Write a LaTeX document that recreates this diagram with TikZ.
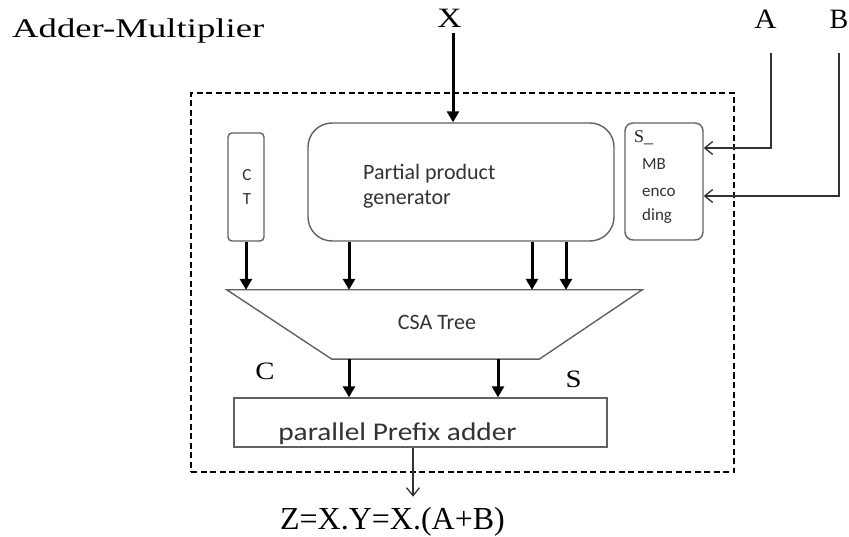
\documentclass[tikz,border=0pt]{standalone}
\usepackage{fontspec}
\usepackage{graphicx}
\setmainfont{Liberation Serif}
\newfontfamily\boxfont{Carlito}
\usetikzlibrary{arrows.meta}
\newcommand\wx[2]{\scalebox{#1}[1]{#2}}
\begin{document}
\begin{tikzpicture}[x=1pt,y=-1pt,
  blk/.style={draw=black!62, line width=1.4pt, fill=white},
  thk/.style={line width=3pt, -{Triangle[length=11pt,width=12pt]}},
  thn/.style={line width=1.3pt, draw=black!80, -{Straight Barb[length=8pt,width=13pt,line width=1.3pt]}},
  lbl/.style={inner sep=0pt, anchor=base, text=black},
  btxt/.style={inner sep=0pt, text=black!80, font=\boxfont},
  frame/.style={draw, line width=2.7pt, dash pattern=on 6pt off 3.5pt}]
\useasboundingbox (0,0) rectangle (849,537);

% outer dashed frame
\node[frame, minimum width=543pt, minimum height=379pt, inner sep=0pt] (fr) at (462.5,282.5) {};

% title and input labels
\node[lbl, anchor=base west] (title) at (12,38) {\fontsize{27}{30}\selectfont\wx{1.36}{Adder-Multiplier}};
\node[lbl] (X) at (449.5,28) {\fontsize{28}{30}\selectfont\wx{1.2}{X}};
\node[lbl] (A) at (765.5,29) {\fontsize{28}{30}\selectfont\wx{1.1}{A}};
\node[lbl] (B) at (839,29) {\fontsize{28}{30}\selectfont\wx{1.0}{B}};

% blocks
\node[blk, rounded corners=4pt, minimum width=36pt, minimum height=108pt, inner sep=0pt] (ct) at (246,187) {};
\node[btxt, font=\boxfont\fontsize{17}{18}\selectfont] (ctc) at (247,175) {C};
\node[btxt, font=\boxfont\fontsize{17}{18}\selectfont] (ctt) at (247,199) {T};

\node[blk, rounded corners=24pt, minimum width=306pt, minimum height=118pt, inner sep=0pt] (ppg) at (461,182) {};
\node[btxt, anchor=base west, font=\boxfont\fontsize{22}{24}\selectfont] (pp1) at (363,180) {Partial product};
\node[btxt, anchor=base west, font=\boxfont\fontsize{22}{24}\selectfont] (pp2) at (363,205) {generator};

\node[blk, rounded corners=8pt, minimum width=78pt, minimum height=117pt, inner sep=0pt] (mb) at (664,181.5) {};
\node[lbl, anchor=base west, text=black!85] (mbs) at (634,143) {\fontsize{18}{18}\selectfont S\_};
\node[btxt, anchor=base west, font=\boxfont\fontsize{17}{18}\selectfont] (mb1) at (642,170) {MB};
\node[btxt, anchor=base west, font=\boxfont\fontsize{17}{18}\selectfont] (mb2) at (642,197) {enco};
\node[btxt, anchor=base west, font=\boxfont\fontsize{17}{18}\selectfont] (mb3) at (642,221) {ding};

% CSA tree (trapezoid)
\node[minimum width=415pt, minimum height=69pt, inner sep=0pt] (csa) at (434.5,324.5) {};
\draw[blk] (csa.north west) -- (csa.north east) -- ([xshift=-103pt]csa.south east) -- ([xshift=105pt]csa.south west) -- cycle;
\node[btxt, font=\boxfont\fontsize{22}{24}\selectfont] (csat) at (437,322) {CSA Tree};

% adder
\node[blk, minimum width=373pt, minimum height=49pt, inner sep=0pt] (adder) at (420.5,422.5) {};
\node[btxt, anchor=base, font=\boxfont\fontsize{25.5}{28}\selectfont] (addt) at (397.5,440) {\wx{1.15}{parallel Prefix adder}};

% C and S labels
\node[lbl] (Cl) at (265,379) {\fontsize{25}{30}\selectfont\wx{1.15}{C}};
\node[lbl] (Sl) at (573.5,388) {\fontsize{25}{30}\selectfont\wx{1.15}{S}};

% output
\node[lbl] (Z) at (392.5,529.5) {\fontsize{32}{36}\selectfont Z=X.Y=X.(A+B)};

% connectors
\coordinate (x0) at (453,33);
\draw[thk] (x0) -- (x0 |- ppg.north);

\coordinate (a0) at (771,53);
\coordinate (b0) at (839,53);
\draw[thn] (a0) |- ([yshift=33.5pt]mb.east);
\draw[thn] (b0) |- ([yshift=-14.5pt]mb.east);

\draw[thk] (ct.south) -- (ct.south |- csa.north);
\coordinate (p1) at ([xshift=-112pt]ppg.south);
\coordinate (p2) at ([xshift=71pt]ppg.south);
\coordinate (p3) at ([xshift=105pt]ppg.south);
\draw[thk] (p1) -- (p1 |- csa.north);
\draw[thk] (p2) -- (p2 |- csa.north);
\draw[thk] (p3) -- (p3 |- csa.north);

\coordinate (q1) at ([xshift=-85.5pt]csa.south);
\coordinate (q2) at ([xshift=63.5pt]csa.south);
\draw[thk] (q1) -- (q1 |- adder.north);
\draw[thk] (q2) -- (q2 |- adder.north);

\coordinate (o1) at ([xshift=-7.5pt]adder.south);
\draw[thn] (o1) -- ++(0,49);
\end{tikzpicture}
\end{document}
